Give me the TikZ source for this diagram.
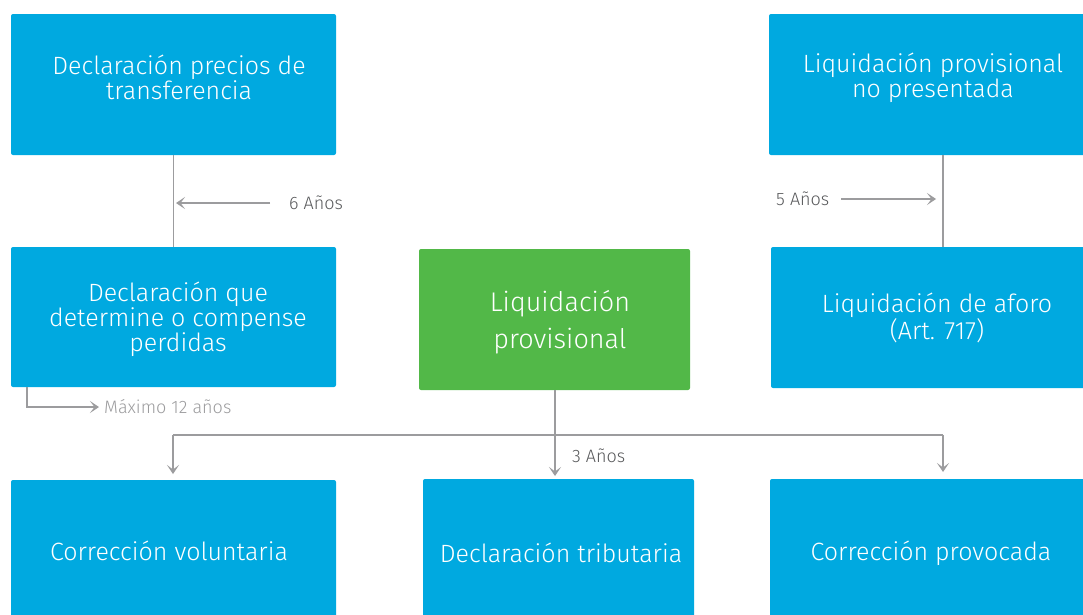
\documentclass[tikz,border=0pt]{standalone}
\usepackage{fontspec}
\setmainfont{Fira Sans Light}
\usetikzlibrary{arrows.meta,calc}
\definecolor{boxblue}{HTML}{00A9E0}
\definecolor{boxgreen}{HTML}{52B848}
\definecolor{linegray}{HTML}{9C9C9E}
\definecolor{labelgray}{HTML}{58595B}
\definecolor{lightlabel}{HTML}{9C9C9E}
\tikzset{
  box/.style={fill=boxblue, rounded corners=2pt, inner sep=0pt},
  gbox/.style={box, fill=boxgreen},
  btxt/.style={text=white, align=center, inner sep=0pt,
    font=\fontsize{25}{25}\selectfont},
  gtxt/.style={btxt, font=\fontsize{27}{37}\selectfont},
  conn/.style={draw=linegray, line width=1.3pt},
  arr/.style={conn, -{Stealth[length=9pt,width=12pt,inset=4.5pt]}},
  lbl/.style={text=labelgray, font=\fontsize{18}{20}\selectfont, inner sep=0pt, anchor=west},
}
\begin{document}
\begin{tikzpicture}[x=1pt,y=-1pt]
\useasboundingbox (0,0) rectangle (1083,614);
% top row
\node[box, minimum width=325pt, minimum height=141pt] (A) at (173.5,84.5) {};
\node[btxt] (At) at (179,77) {Declaración precios de\\transferencia};
\node[box, minimum width=321pt, minimum height=141pt] (B) at (929.5,84.5) {};
\node[btxt] (Bt) at (933,78) {Liquidación provisional\\no presentada};
% middle row
\node[box, minimum width=325pt, minimum height=140pt] (C) at (173.5,317) {};
\node[btxt] (Ct) at (178,319) {Declaración que\\determine o compense\\perdidas};
\node[gbox, minimum width=271pt, minimum height=141pt] (D) at (554.5,319.5) {};
\node[gtxt] (Dt) at (560,322) {Liquidación\\provisional};
\node[box, minimum width=319pt, minimum height=141pt] (E) at (930.5,317.5) {};
\node[btxt] (Et) at (937,318) {Liquidación de aforo\\(Art. 717)};
% bottom row
\node[box, minimum width=325pt, minimum height=142pt] (F) at (173.5,551) {};
\node[btxt] (Ft) at (169,551) {Corrección voluntaria};
\node[box, minimum width=271pt, minimum height=143pt] (G) at (558.5,550.5) {};
\node[btxt] (Gt) at (561,553) {Declaración tributaria};
\node[box, minimum width=320pt, minimum height=143pt] (H) at (930,550.5) {};
\node[btxt] (Ht) at (931,553) {Corrección provocada};

% A -- C with 6 Años
\draw[conn] (A.south) -- (C.north);
\node[lbl] (l6) at (289,203) {6 Años};
\coordinate (a6s) at (270,203);
\coordinate (a6e) at (176,203);
\draw[arr] (a6s) -- (a6e);

% B -- E with 5 Años
\draw[conn] ([xshift=13.5pt]B.south) -- ([xshift=12.5pt]E.north);
\node[lbl] (l5) at (776,199) {5 Años};
\coordinate (a5s) at (841,199);
\coordinate (a5e) at (936,199);
\draw[arr] (a5s) -- (a5e);

% C -> Máximo 12 años
\node[lbl, text=lightlabel] (lmax) at (104,407) {Máximo 12 años};
\draw[arr] ([xshift=-146.5pt]C.south) |- ([xshift=-5pt]lmax.west);

% D -> G with 3 Años
\coordinate (d3) at (555,476);
\draw[arr] (D.south -| d3) -- (d3);
\node[lbl] (l3) at (572,456) {3 Años};

% horizontal bar with two arrows
\coordinate (hl) at (173,435);
\coordinate (hr) at (943,435);
\coordinate (hle) at (173,474);
\coordinate (hre) at (943,472);
\draw[conn] (hl) -- (hr);
\draw[arr] (hr) -- (hre);
\draw[arr] (hl) -- (hle);
\end{tikzpicture}
\end{document}
